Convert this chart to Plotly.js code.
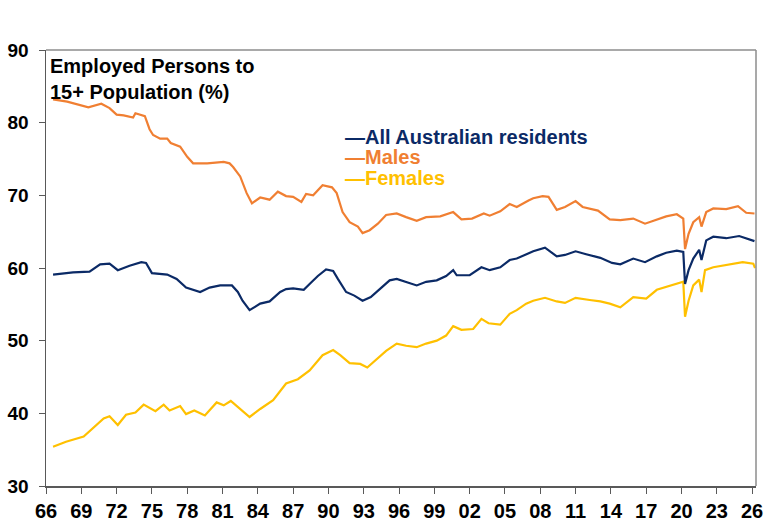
<!DOCTYPE html>
<html>
<head>
<meta charset="utf-8">
<script src="https://cdn.plot.ly/plotly-3.0.1.min.js"></script>
<style>
  html,body{margin:0;padding:0;background:#fff;}
  #chart{width:767px;height:527px;}
</style>
</head>
<body>
<div id="chart"></div>
<script>
// employment-to-population ratio, Australia (decimal years)
const seriesNames = ["All Australian residents", "Males", "Females"];
const seriesColors = ["#0b2a66", "#f07f32", "#ffc000"];

const tickYears  = [1966,1969,1972,1975,1978,1981,1984,1987,1990,1993,1996,1999,2002,2005,2008,2011,2014,2017,2020,2023,2026];
const tickLabels = ["66","69","72","75","78","81","84","87","90","93","96","99","02","05","08","11","14","17","20","23","26"];

const allYears = [1966.6,1968.3,1969.7,1970.6,1971.4,1972.1,1973.1,1974.1,1974.5,1975.0,1976.3,1977.1,1977.9,1979.1,1979.9,1980.8,1981.8,1982.3,1982.7,1983.3,1984.2,1985.0,1985.9,1986.4,1987.0,1987.9,1988.4,1989.1,1989.8,1990.4,1990.8,1991.5,1992.2,1992.9,1993.6,1994.4,1995.2,1995.8,1996.6,1997.5,1998.3,1999.2,2000.0,2000.6,2000.9,2002.0,2003.0,2003.7,2004.6,2005.4,2006.0,2007.0,2007.4,2008.4,2009.4,2010.1,2011.0,2011.9,2013.1,2014.1,2014.8,2015.9,2016.9,2017.9,2018.7,2019.6,2020.15,2020.3,2020.6,2021.0,2021.5,2021.7,2022.1,2022.7,2023.8,2024.9,2026.2];
const allRate  = [59.1,59.4,59.5,60.5,60.6,59.7,60.3,60.8,60.7,59.3,59.1,58.5,57.3,56.7,57.3,57.6,57.6,56.7,55.5,54.2,55.1,55.4,56.7,57.1,57.2,57.0,57.8,58.9,59.8,59.6,58.5,56.7,56.2,55.5,56.0,57.2,58.3,58.5,58.1,57.6,58.1,58.3,58.9,59.7,59.0,59.0,60.1,59.7,60.1,61.1,61.3,62.0,62.3,62.8,61.6,61.8,62.3,61.9,61.4,60.7,60.5,61.3,60.8,61.6,62.1,62.4,62.2,57.8,59.7,61.3,62.5,61.1,63.8,64.3,64.1,64.4,63.7];

const maleYears = [1966.6,1967.8,1969.6,1970.3,1970.7,1971.4,1972.0,1972.6,1973.4,1973.6,1974.4,1974.8,1975.1,1975.7,1976.3,1976.6,1977.4,1978.0,1978.5,1979.7,1981.1,1981.6,1981.9,1982.5,1983.05,1983.5,1984.2,1985.0,1985.7,1986.4,1987.0,1987.7,1988.1,1988.7,1989.5,1990.3,1990.7,1991.2,1991.8,1992.5,1992.9,1993.5,1994.2,1994.9,1995.8,1996.6,1997.5,1998.3,1999.5,2000.6,2001.3,2002.2,2003.2,2003.7,2004.6,2005.4,2006.0,2007.0,2007.4,2008.2,2008.7,2009.4,2010.1,2011.0,2011.6,2012.9,2013.9,2014.8,2015.9,2016.9,2017.9,2018.7,2019.6,2020.15,2020.3,2020.6,2021.0,2021.5,2021.7,2022.1,2022.7,2023.8,2024.8,2025.5,2026.2];
const maleRate  = [83.2,82.9,82.1,82.4,82.6,82.0,81.1,81.0,80.7,81.3,80.9,79.1,78.3,77.8,77.8,77.2,76.7,75.3,74.4,74.4,74.6,74.4,73.9,72.6,70.3,68.9,69.7,69.4,70.5,69.9,69.8,69.1,70.2,70.0,71.4,71.1,70.3,67.7,66.3,65.7,64.8,65.2,66.1,67.3,67.5,67.0,66.5,67.0,67.1,67.7,66.7,66.8,67.5,67.2,67.8,68.8,68.4,69.3,69.6,69.9,69.8,68.0,68.4,69.2,68.4,67.9,66.7,66.6,66.8,66.1,66.7,67.1,67.4,66.8,62.6,64.7,66.3,67.0,65.7,67.7,68.2,68.1,68.5,67.6,67.5];

const femaleYears = [1966.6,1967.7,1969.2,1969.9,1970.9,1971.4,1972.1,1972.8,1973.6,1974.3,1975.3,1976.0,1976.5,1977.4,1977.9,1978.6,1979.5,1980.5,1981.1,1981.7,1982.5,1983.3,1984.2,1985.3,1986.4,1987.4,1988.4,1989.5,1990.4,1991.0,1991.8,1992.7,1993.3,1994.1,1994.9,1995.8,1996.6,1997.5,1998.3,1999.2,2000.0,2000.6,2001.3,2002.3,2003.0,2003.6,2004.6,2005.4,2006.0,2006.8,2007.4,2008.4,2009.4,2010.1,2011.0,2012.2,2013.1,2013.9,2014.8,2015.9,2017.0,2017.9,2018.7,2019.6,2020.15,2020.3,2020.6,2021.0,2021.5,2021.7,2022.0,2022.7,2023.8,2025.2,2026.1,2026.25];
const femaleRate  = [35.4,36.1,36.8,37.8,39.3,39.6,38.4,39.8,40.1,41.2,40.3,41.2,40.4,41.0,39.9,40.4,39.7,41.5,41.1,41.7,40.6,39.5,40.6,41.8,44.1,44.7,45.9,48.0,48.7,48.0,46.9,46.8,46.3,47.5,48.6,49.6,49.3,49.1,49.6,50.0,50.7,52.0,51.5,51.6,53.0,52.4,52.2,53.7,54.2,55.1,55.5,55.9,55.4,55.2,55.9,55.6,55.4,55.1,54.6,56.0,55.8,57.0,57.4,57.8,58.1,53.3,55.5,57.6,58.4,56.7,59.7,60.1,60.4,60.8,60.6,60.0];

const FONT = "'Liberation Sans', Arial, Helvetica, sans-serif";
const xs = [allYears, maleYears, femaleYears];
const ys = [allRate, maleRate, femaleRate];

// draw order: males, females, then the all-persons line on top
const traces = [1, 2, 0].map(i => ({
  x: xs[i], y: ys[i], type: "scatter", mode: "lines", name: seriesNames[i],
  line: {color: seriesColors[i], width: 2.2}, hoverinfo: "x+y"
}));

// legend drawn as coloured text with a dash, like the source
const legY = [0.801, 0.754, 0.706];
const legend = seriesNames.map((n, i) => ({
  xref: "paper", yref: "paper", x: 0.418, y: legY[i], xanchor: "left", yanchor: "middle",
  showarrow: false, text: "<b>\u2014" + n + "</b>",
  font: {family: FONT, size: 20, color: seriesColors[i]}
}));

const layout = {
  width: 767, height: 527,
  margin: {l: 46, r: 11, t: 50, b: 41},
  paper_bgcolor: "#fff", plot_bgcolor: "#fff",
  showlegend: false,
  font: {family: FONT, color: "#000"},
  xaxis: {
    range: [1966, 2026.33], tickmode: "array", tickvals: tickYears, ticktext: tickLabels,
    ticks: "outside", ticklen: 6, tickcolor: "#595959", tickwidth: 1,
    showline: true, linecolor: "#595959", linewidth: 1.5,
    showgrid: false, zeroline: false,
    tickfont: {family: FONT, size: 20, color: "#000", weight: "bold"}
  },
  yaxis: {
    range: [30, 90], dtick: 10, tick0: 30,
    ticks: "outside", ticklen: 6, tickcolor: "#595959", tickwidth: 1,
    showline: true, linecolor: "#595959", linewidth: 1.5,
    showgrid: false, zeroline: false, ticklabelstandoff: 6,
    tickfont: {family: FONT, size: 19, color: "#000", weight: "bold"}
  },
  shapes: [
    {type: "line", xref: "paper", yref: "paper", x0: 0, x1: 1, y0: 1, y1: 1, line: {color: "#8c8c8c", width: 1.5}},
    {type: "line", xref: "paper", yref: "paper", x0: 1, x1: 1, y0: 0, y1: 1, line: {color: "#8c8c8c", width: 1.5}}
  ],
  annotations: [{
    xref: "paper", yref: "paper", x: 0, y: 1, xanchor: "left", yanchor: "top",
    xshift: 2, yshift: -3, align: "left", showarrow: false,
    text: "<b>Employed Persons to<br>15+ Population (%)</b>",
    font: {family: FONT, size: 20, color: "#000"}
  }].concat(legend)
};

Plotly.newPlot("chart", traces, layout, {displayModeBar: false, staticPlot: true});
</script>
</body>
</html>
